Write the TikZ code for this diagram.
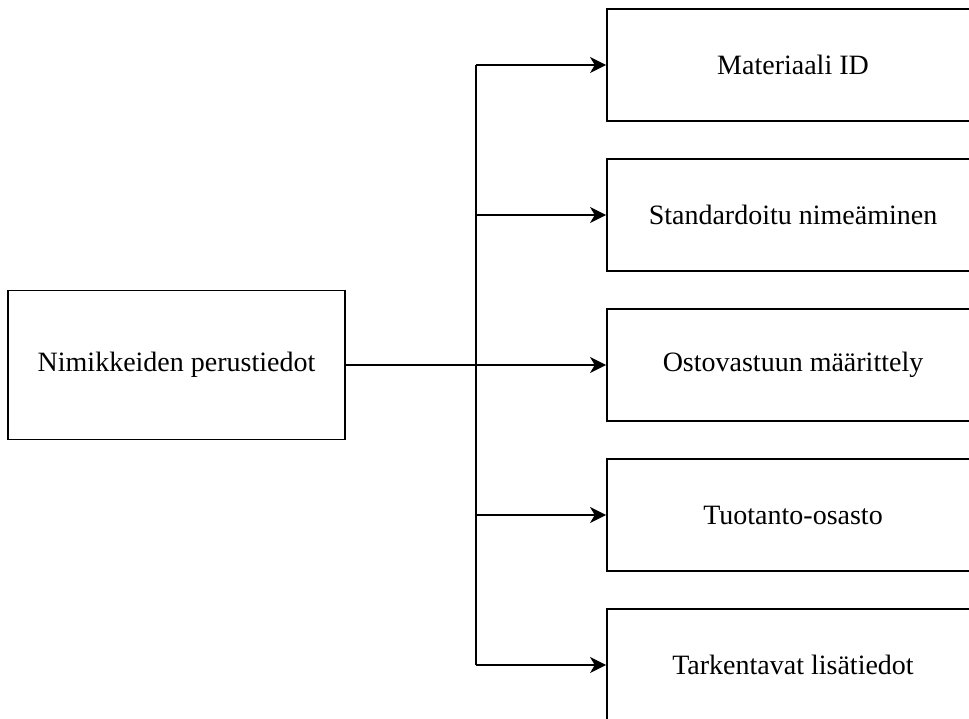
\documentclass[tikz,border=0pt]{standalone}
\usepackage{fontspec}
\setmainfont{Liberation Serif}
\usetikzlibrary{arrows.meta}
\begin{document}
\begin{tikzpicture}[x=0.75pt,y=-0.75pt,
  box/.style={draw=black,line width=1.4pt,rectangle,inner sep=0pt,font=\fontsize{21}{25}\selectfont},
  conn/.style={line width=1.4pt},
  arr/.style={line width=1.4pt,-{Stealth[length=12pt,width=12pt,inset=3.5pt]}}]
\useasboundingbox (0,0) rectangle (969,718);
\clip (0,0) rectangle (969,718);
\node[box,minimum width=337*0.75pt,minimum height=149*0.75pt] (src) at (176.5,365) {Nimikkeiden perustiedot};
\node[box,minimum width=372*0.75pt,minimum height=112*0.75pt] (b1) at (793,65) {Materiaali ID};
\node[box,minimum width=372*0.75pt,minimum height=112*0.75pt] (b2) at (793,215) {Standardoitu nimeäminen};
\node[box,minimum width=372*0.75pt,minimum height=112*0.75pt] (b3) at (793,365) {Ostovastuun määrittely};
\node[box,minimum width=372*0.75pt,minimum height=112*0.75pt] (b4) at (793,515) {Tuotanto-osasto};
\node[box,minimum width=372*0.75pt,minimum height=112*0.75pt] (b5) at (793,665) {Tarkentavat lisätiedot};
\coordinate (top) at (476,65);
\coordinate (bot) at (476,665);
\draw[conn] (top) -- (bot);
\draw[arr] (src.east) -- (b3.west);
\draw[arr] (top) -- (b1.west);
\draw[arr] (476,215) -- (b2.west);
\draw[arr] (476,515) -- (b4.west);
\draw[arr] (bot) -- (b5.west);
\end{tikzpicture}
\end{document}
